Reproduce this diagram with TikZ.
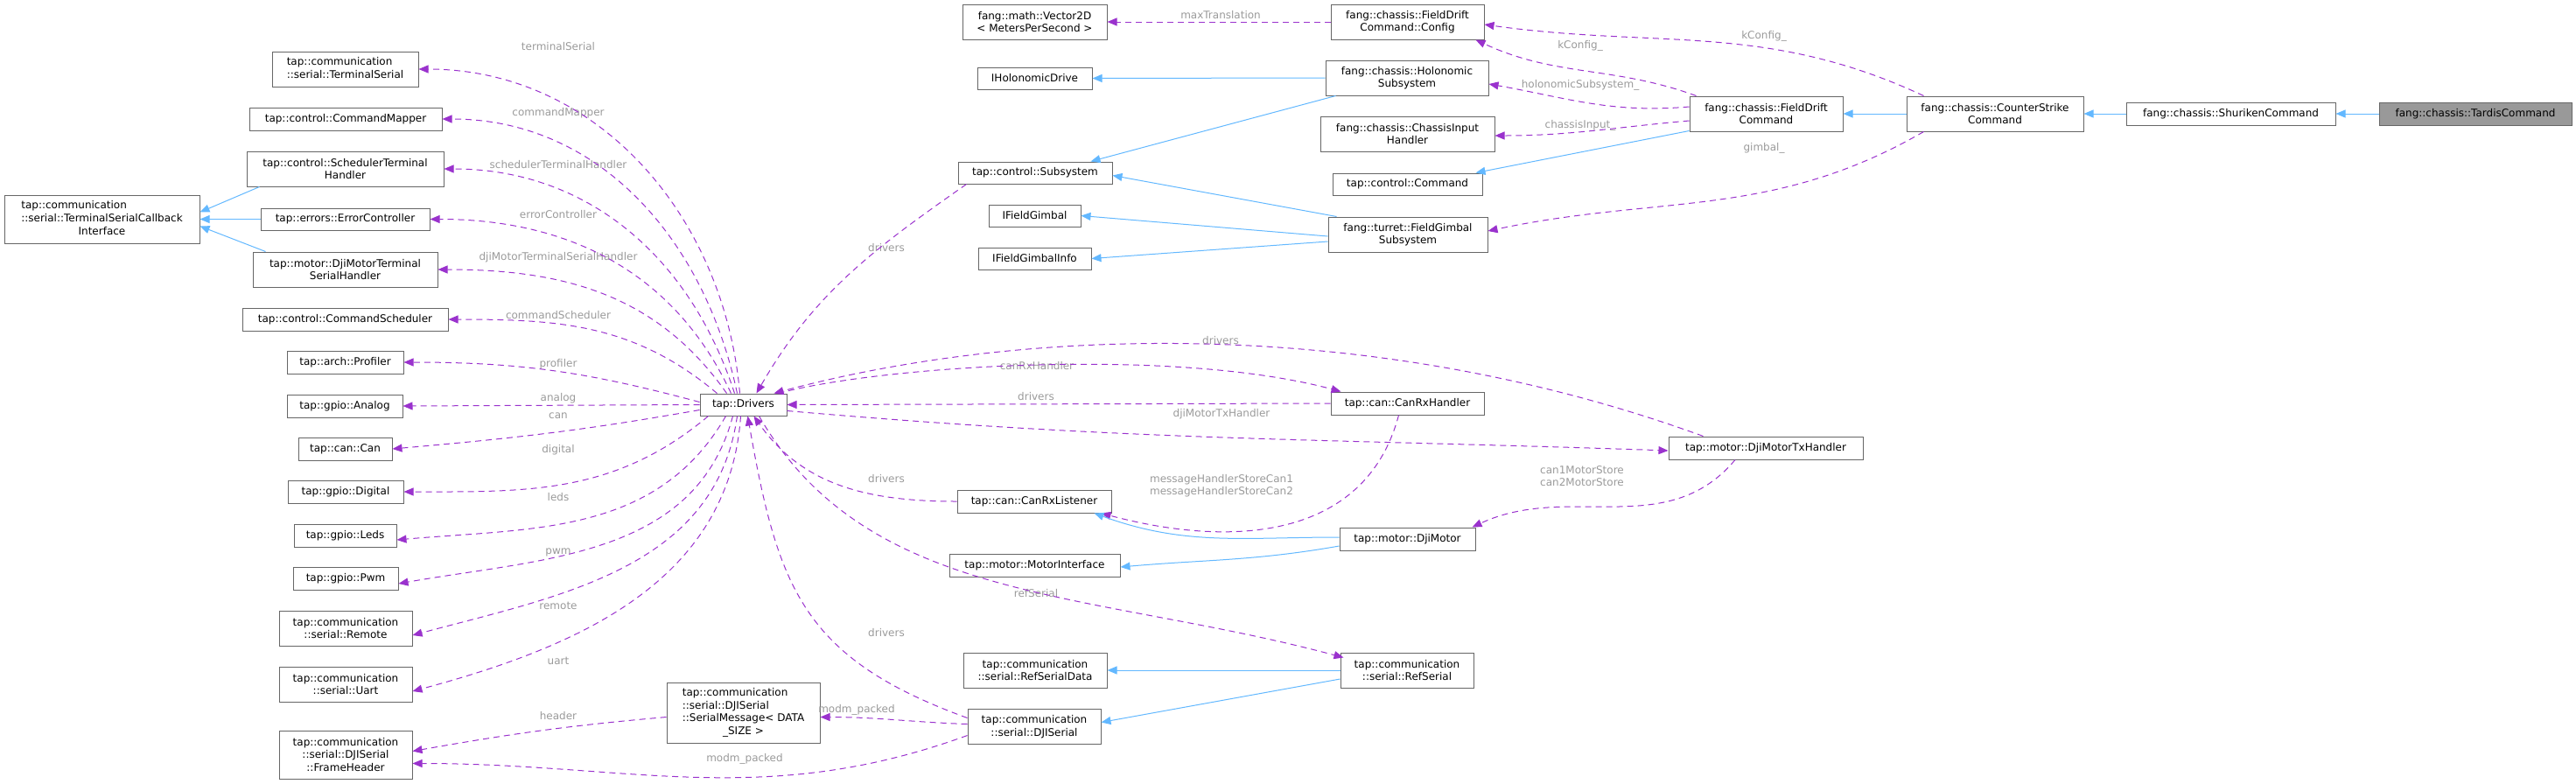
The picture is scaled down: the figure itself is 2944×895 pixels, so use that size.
\documentclass[tikz,border=0pt]{standalone}
\usepackage{fontspec}
\setmainfont{DejaVu Sans}
\usetikzlibrary{arrows.meta}
\definecolor{dep}{HTML}{9A32CD}
\definecolor{inh}{HTML}{63B8FF}
\definecolor{bord}{HTML}{666666}
\definecolor{lblc}{HTML}{9A9A9A}
\begin{document}
\begin{tikzpicture}[x=1pt,y=-1pt,
  box/.style={draw=bord,line width=1pt,fill=white,inner sep=1pt,align=center,font=\fontsize{12}{14.6}\selectfont},
  lbl/.style={text=lblc,inner sep=0pt,align=center,font=\fontsize{12}{14.6}\selectfont},
  depl/.style={draw=dep,line width=1pt,dash pattern=on 7pt off 5pt,-{Triangle[length=11pt,width=9pt,fill=dep]}},
  inhl/.style={draw=inh,line width=1pt,-{Triangle[length=11pt,width=9pt,fill=inh]}}]
\useasboundingbox (0,0) rectangle (2944,895);
\newcommand\nd[6]{\node[box,minimum width=#4pt,minimum height=#5pt] (#1) at (#2,#3) {#6};}
\nd{cb}{116.5}{250.5}{223}{55}{\begin{tabular}{@{}l@{}}tap::communication\\::serial::TerminalSerialCallback\\\multicolumn{1}{@{}c@{}}{Interface}\end{tabular}}
\nd{ts}{394.5}{79}{167}{40}{\begin{tabular}{@{}l@{}}tap::communication\\::serial::TerminalSerial\end{tabular}}
\nd{cm}{395}{136}{220}{26}{tap::control::CommandMapper}
\nd{sth}{394.5}{193}{225}{40}{tap::control::SchedulerTerminal\\Handler}
\nd{ec}{394.5}{250.5}{193}{25}{tap::errors::ErrorController}
\nd{dmt}{394.5}{308}{211}{40}{tap::motor::DjiMotorTerminal\\SerialHandler}
\nd{csch}{394.5}{365}{235}{26}{tap::control::CommandScheduler}
\nd{prof}{394.5}{414}{133}{26}{tap::arch::Profiler}
\nd{an}{394}{464}{132}{26}{tap::gpio::Analog}
\nd{can}{394.5}{513}{107}{26}{tap::can::Can}
\nd{dig}{395}{562}{132}{26}{tap::gpio::Digital}
\nd{leds}{394.5}{612}{117}{26}{tap::gpio::Leds}
\nd{pwm}{395}{661}{120}{26}{tap::gpio::Pwm}
\nd{rem}{395}{718}{152}{40}{tap::communication\\::serial::Remote}
\nd{uart}{395}{782}{152}{40}{tap::communication\\::serial::Uart}
\nd{fh}{395}{862.5}{152}{55}{tap::communication\\::serial::DJISerial\\::FrameHeader}
\nd{drv}{849.5}{462.5}{99}{25}{tap::Drivers}
\nd{sm}{849.5}{814.5}{175}{69}{\begin{tabular}{@{}l@{}}tap::communication\\::serial::DJISerial\\::SerialMessage< DATA\\\multicolumn{1}{@{}c@{}}{\_SIZE >}\end{tabular}}
\nd{djs}{1182}{830.5}{152}{40}{tap::communication\\::serial::DJISerial}
\nd{rsd}{1183}{766}{164}{40}{tap::communication\\::serial::RefSerialData}
\nd{mi}{1182.5}{646}{195}{26}{tap::motor::MotorInterface}
\nd{crl}{1182}{573}{176}{26}{tap::can::CanRxListener}
\nd{sub}{1183}{197.5}{176}{25}{tap::control::Subsystem}
\nd{ifg}{1182.5}{246.5}{105}{25}{IFieldGimbal}
\nd{ifgi}{1182.5}{295.5}{129}{25}{IFieldGimbalInfo}
\nd{ihd}{1182.5}{89.5}{131}{25}{IHolonomicDrive}
\nd{vec}{1182.5}{25}{165}{40}{fang::math::Vector2D\\< MetersPerSecond >}
\nd{cfg}{1608.5}{25}{175}{40}{fang::chassis::FieldDrift\\Command::Config}
\nd{hol}{1608}{89}{186}{40}{fang::chassis::Holonomic\\Subsystem}
\nd{ci}{1608.5}{153}{199}{40}{fang::chassis::ChassisInput\\Handler}
\nd{cmd}{1608.5}{210.5}{171}{25}{tap::control::Command}
\nd{fgs}{1609}{268}{182}{40}{fang::turret::FieldGimbal\\Subsystem}
\nd{crh}{1608.5}{461}{175}{26}{tap::can::CanRxHandler}
\nd{dm}{1608.5}{616}{155}{26}{tap::motor::DjiMotor}
\nd{rs}{1608}{766}{152}{40}{tap::communication\\::serial::RefSerial}
\nd{dtx}{2018}{512}{222}{26}{tap::motor::DjiMotorTxHandler}
\nd{fd}{2018.5}{130}{175}{40}{fang::chassis::FieldDrift\\Command}
\nd{csk}{2280}{130}{202}{40}{fang::chassis::CounterStrike\\Command}
\nd{sh}{2549.5}{130}{239}{26}{fang::chassis::ShurikenCommand}
\node[box,fill=gray!80,minimum width=220pt,minimum height=26pt] (td) at (2829,130) {fang::chassis::TardisCommand};
% labels
\node[lbl] (l1) at (638,53) {terminalSerial};
\node[lbl] (l2) at (638,129) {commandMapper};
\node[lbl] (l3) at (638,188) {schedulerTerminalHandler};
\node[lbl] (l4) at (638,245) {errorController};
\node[lbl] (l5) at (638,294) {djiMotorTerminalSerialHandler};
\node[lbl] (l6) at (638,360) {commandScheduler};
\node[lbl] (l7) at (638,416) {profiler};
\node[lbl] (l8) at (638,455) {analog};
\node[lbl] (l9) at (638,475) {can};
\node[lbl] (l10) at (638,514) {digital};
\node[lbl] (l11) at (638,568) {leds};
\node[lbl] (l12) at (638,631) {pwm};
\node[lbl] (l13) at (638,692) {remote};
\node[lbl] (l14) at (638,755) {uart};
\node[lbl] (l15) at (638,818) {header};
\node[lbl] (l16) at (851,867) {modm\_packed};
\node[lbl] (l17) at (979,811) {modm\_packed};
\node[lbl] (l18) at (1013,723) {drivers};
\node[lbl] (l19) at (1013,547) {drivers};
\node[lbl] (l20) at (1013,283) {drivers};
\node[lbl] (l21) at (1184,453) {drivers};
\node[lbl] (l22) at (1185,418) {canRxHandler};
\node[lbl] (l23) at (1395,389) {drivers};
\node[lbl] (l24) at (1396,473) {djiMotorTxHandler};
\node[lbl] (l25) at (1184,678) {refSerial};
\node[lbl] (l26) at (1396,555) {messageHandlerStoreCan1\\messageHandlerStoreCan2};
\node[lbl] (l27) at (1808,544) {can1MotorStore\\can2MotorStore};
\node[lbl] (l28) at (1395,17) {maxTranslation};
\node[lbl] (l29) at (1806,52) {kConfig\_};
\node[lbl] (l30) at (2016,41) {kConfig\_};
\node[lbl] (l31) at (1806,97) {holonomicSubsystem\_};
\node[lbl] (l32) at (1806,143) {chassisInput\_};
\node[lbl] (l33) at (2016,169) {gimbal\_};
% Drivers fan
\draw[depl] ([xshift=-4pt]drv.north) to[out=95,in=0] (ts.east);
\draw[depl] ([xshift=-7pt]drv.north) to[out=102,in=0] (cm.east);
\draw[depl] ([xshift=-10pt]drv.north) to[out=108,in=0] (sth.east);
\draw[depl] ([xshift=-14pt]drv.north) to[out=115,in=0] (ec.east);
\draw[depl] ([xshift=-19pt]drv.north) to[out=125,in=0] (dmt.east);
\draw[depl] ([xshift=-30pt]drv.north) to[out=140,in=0] (csch.east);
\draw[depl] ([yshift=3pt]drv.west) to[out=165,in=0] (prof.east);
\draw[depl] (drv.west) -- (an.east);
\draw[depl] ([yshift=-6pt]drv.west) to[out=190,in=5] (can.east);
\draw[depl] ([xshift=-40pt]drv.south) to[out=220,in=0] (dig.east);
\draw[depl] ([xshift=-20pt]drv.south) to[out=240,in=5] ([yshift=-5pt]leds.east);
\draw[depl] ([xshift=-12pt]drv.south) to[out=255,in=10] ([yshift=-6pt]pwm.east);
\draw[depl] ([xshift=-7pt]drv.south) to[out=262,in=15] ([yshift=-8pt]rem.east);
\draw[depl] ([xshift=-3pt]drv.south) to[out=266,in=15] ([yshift=-8pt]uart.east);
\draw[depl] ([yshift=-5pt]sm.west) to[out=185,in=10] ([yshift=4pt]fh.east);
\draw[depl] ([yshift=-10pt]djs.west) to[out=200,in=0] ([yshift=-10pt]fh.east);
\draw[depl] ([yshift=3pt]djs.west) to[out=178,in=0] ([yshift=-5pt]sm.east);
\draw[depl] ([yshift=10pt]djs.west) .. controls +(160:200pt) and +(-80:200pt) .. ([xshift=5pt]drv.south);
\draw[depl] ([xshift=10pt]sub.south west) to[out=215,in=60] ([xshift=15pt]drv.north);
\draw[depl] (crl.west) to[out=180,in=-55] ([xshift=12pt]drv.south);
\draw[depl] (crh.west) -- (drv.east);
\draw[depl] ([xshift=40pt]dtx.north west) .. controls +(160:400pt) and +(15:300pt) .. ([xshift=35pt]drv.north);
\draw[depl] ([xshift=40pt]drv.north) .. controls +(15:120pt) and +(165:200pt) .. ([xshift=12pt]crh.north west);
\draw[depl] ([yshift=-7pt]drv.east) .. controls +(-5:400pt) and +(178:400pt) .. ([yshift=-3pt]dtx.west);
\draw[depl] ([xshift=18pt]drv.south) .. controls +(-60:250pt) and +(165:300pt) .. ([xshift=4pt,yshift=-6pt]rs.north west);
\draw[depl] ([xshift=-10pt]crh.south) .. controls +(-105:150pt) and +(-15:150pt) .. ([xshift=-12pt]crl.south east);
\draw[depl] ([xshift=-35pt]dtx.south) to[out=-130,in=25] ([xshift=-4pt]dm.north east);
\draw[depl] (cfg.west) -- (vec.east);
\draw[depl] ([xshift=8pt]fd.north west) to[out=160,in=-25] ([xshift=-10pt]cfg.south east);
\draw[depl] ([xshift=20pt]csk.north west) .. controls +(155:200pt) and +(-8:200pt) .. ([yshift=-3pt]cfg.east);
\draw[depl] ([yshift=8pt]fd.west) to[out=185,in=-10] ([yshift=-7pt]hol.east);
\draw[depl] ([yshift=-8pt]fd.west) to[out=185,in=0] ([yshift=-2pt]ci.east);
\draw[depl] ([xshift=20pt]csk.south west) .. controls +(-150:200pt) and +(12:200pt) .. ([yshift=4pt]fgs.east);
% inheritance
\draw[inhl] ([xshift=15pt]sth.south west) -- ([yshift=8pt]cb.east);
\draw[inhl] (ec.west) -- (cb.east);
\draw[inhl] ([xshift=15pt]dmt.north west) -- ([yshift=-8pt]cb.east);
\draw[inhl] (hol.west) -- (ihd.east);
\draw[inhl] ([xshift=12pt]hol.south west) -- ([xshift=-25pt]sub.north east);
\draw[inhl] ([xshift=10pt]fgs.north west) -- ([yshift=-3pt]sub.east);
\draw[inhl] ([yshift=-2pt]fgs.west) -- (ifg.east);
\draw[inhl] ([yshift=-8pt]fgs.west) -- (ifgi.east);
\draw[inhl] ([yshift=1pt]fd.south west) -- ([xshift=-8pt]cmd.north east);
\draw[inhl] (csk.west) -- (fd.east);
\draw[inhl] (sh.west) -- (csk.east);
\draw[inhl] (td.west) -- (sh.east);
\draw[inhl] ([yshift=2pt]dm.west) to[out=180,in=-20] ([xshift=-20pt]crl.south east);
\draw[inhl] ([yshift=-8pt]dm.west) to[out=190,in=5] ([yshift=-2pt]mi.east);
\draw[inhl] (rs.west) -- (rsd.east);
\draw[inhl] ([yshift=-10pt]rs.west) -- ([yshift=5pt]djs.east);
\end{tikzpicture}
\end{document}
